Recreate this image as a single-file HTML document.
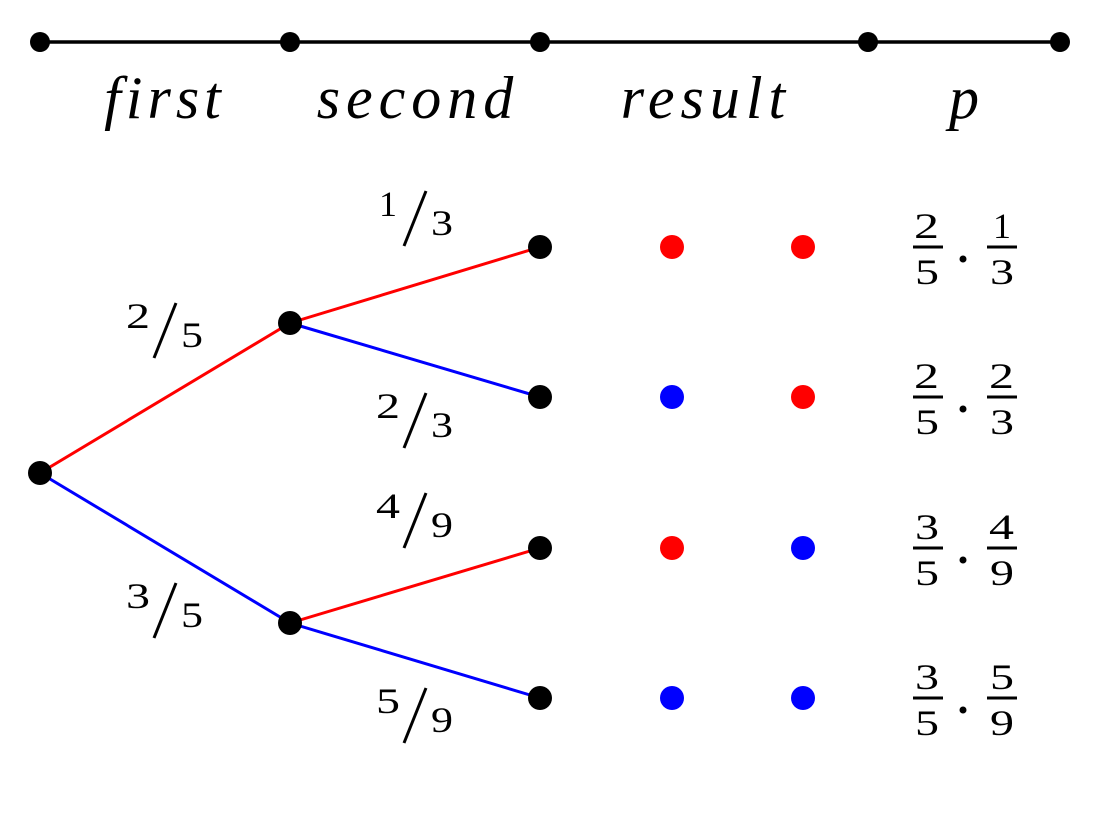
<!DOCTYPE html>
<html><head><meta charset="utf-8"><style>html,body{margin:0;padding:0;background:#fff}</style></head>
<body>
<svg width="1102" height="825" xmlns="http://www.w3.org/2000/svg" font-family="'Liberation Serif', serif">
<defs>
<g id="sl"><line x1="51" y1="3" x2="29" y2="58" stroke="#000" stroke-width="3"/></g>
</defs>
<line x1="40" y1="42" x2="1060" y2="42" stroke="#000" stroke-width="3.5"/>
<g fill="#000">
<circle cx="40" cy="42" r="10"/><circle cx="290" cy="42" r="10"/><circle cx="540" cy="42" r="10"/><circle cx="868" cy="42" r="10"/><circle cx="1060" cy="42" r="10"/>
</g>
<g font-style="italic" font-size="60" text-anchor="middle">
<text x="165" y="118" letter-spacing="5">first</text>
<text x="418" y="118" letter-spacing="6">second</text>
<text x="706" y="118" letter-spacing="6">result</text>
<text x="964" y="118">p</text>
</g>
<g stroke-width="3">
<line x1="40" y1="473" x2="290" y2="323" stroke="#f00"/>
<line x1="40" y1="473" x2="290" y2="623" stroke="#00f"/>
<line x1="290" y1="323" x2="540" y2="247" stroke="#f00"/>
<line x1="290" y1="323" x2="540" y2="397" stroke="#00f"/>
<line x1="290" y1="623" x2="540" y2="548" stroke="#f00"/>
<line x1="290" y1="623" x2="540" y2="698" stroke="#00f"/>
</g>
<g fill="#000">
<circle cx="40" cy="473" r="12"/><circle cx="290" cy="323" r="12"/><circle cx="290" cy="623" r="12"/>
<circle cx="540" cy="247" r="12"/><circle cx="540" cy="397" r="12"/><circle cx="540" cy="548" r="12"/><circle cx="540" cy="698" r="12"/>
</g>
<g>
<circle cx="672" cy="247" r="12" fill="#f00"/><circle cx="803" cy="247" r="12" fill="#f00"/>
<circle cx="672" cy="397" r="12" fill="#00f"/><circle cx="803" cy="397" r="12" fill="#f00"/>
<circle cx="672" cy="548" r="12" fill="#f00"/><circle cx="803" cy="548" r="12" fill="#00f"/>
<circle cx="672" cy="698" r="12" fill="#00f"/><circle cx="803" cy="698" r="12" fill="#00f"/>
</g>
<g font-size="36" text-anchor="middle">
<g transform="translate(375,188)"><text x="13" y="28">1</text><use href="#sl"/><text x="67" y="47" textLength="22" lengthAdjust="spacingAndGlyphs">3</text></g>
<g transform="translate(125,300)"><text x="13" y="28" textLength="24" lengthAdjust="spacingAndGlyphs">2</text><use href="#sl"/><text x="67" y="47" textLength="22" lengthAdjust="spacingAndGlyphs">5</text></g>
<g transform="translate(375,390)"><text x="13" y="28" textLength="24" lengthAdjust="spacingAndGlyphs">2</text><use href="#sl"/><text x="67" y="47" textLength="22" lengthAdjust="spacingAndGlyphs">3</text></g>
<g transform="translate(375,490)"><text x="13" y="28" textLength="24" lengthAdjust="spacingAndGlyphs">4</text><use href="#sl"/><text x="67" y="47" textLength="22" lengthAdjust="spacingAndGlyphs">9</text></g>
<g transform="translate(125,580)"><text x="13" y="28" textLength="24" lengthAdjust="spacingAndGlyphs">3</text><use href="#sl"/><text x="67" y="47" textLength="22" lengthAdjust="spacingAndGlyphs">5</text></g>
<g transform="translate(375,685)"><text x="13" y="28" textLength="24" lengthAdjust="spacingAndGlyphs">5</text><use href="#sl"/><text x="67" y="47" textLength="22" lengthAdjust="spacingAndGlyphs">9</text></g>
</g>
<g font-size="36">
<g transform="translate(0,247)"><text x="914" y="-9" textLength="25" lengthAdjust="spacingAndGlyphs">2</text><line x1="913" y1="0" x2="943" y2="0" stroke="#000" stroke-width="3"/><text x="915" y="37" textLength="24" lengthAdjust="spacingAndGlyphs">5</text><circle cx="963" cy="12" r="3.5"/><text x="993" y="-9">1</text><line x1="987" y1="0" x2="1017" y2="0" stroke="#000" stroke-width="3"/><text x="990" y="37" textLength="24" lengthAdjust="spacingAndGlyphs">3</text></g>
<g transform="translate(0,397)"><text x="914" y="-9" textLength="25" lengthAdjust="spacingAndGlyphs">2</text><line x1="913" y1="0" x2="943" y2="0" stroke="#000" stroke-width="3"/><text x="915" y="37" textLength="24" lengthAdjust="spacingAndGlyphs">5</text><circle cx="963" cy="12" r="3.5"/><text x="989" y="-9" textLength="25" lengthAdjust="spacingAndGlyphs">2</text><line x1="987" y1="0" x2="1017" y2="0" stroke="#000" stroke-width="3"/><text x="990" y="37" textLength="24" lengthAdjust="spacingAndGlyphs">3</text></g>
<g transform="translate(0,548)"><text x="915" y="-9" textLength="24" lengthAdjust="spacingAndGlyphs">3</text><line x1="913" y1="0" x2="943" y2="0" stroke="#000" stroke-width="3"/><text x="915" y="37" textLength="24" lengthAdjust="spacingAndGlyphs">5</text><circle cx="963" cy="12" r="3.5"/><text x="989" y="-9" textLength="25" lengthAdjust="spacingAndGlyphs">4</text><line x1="987" y1="0" x2="1017" y2="0" stroke="#000" stroke-width="3"/><text x="990" y="37" textLength="24" lengthAdjust="spacingAndGlyphs">9</text></g>
<g transform="translate(0,698)"><text x="915" y="-9" textLength="24" lengthAdjust="spacingAndGlyphs">3</text><line x1="913" y1="0" x2="943" y2="0" stroke="#000" stroke-width="3"/><text x="915" y="37" textLength="24" lengthAdjust="spacingAndGlyphs">5</text><circle cx="963" cy="12" r="3.5"/><text x="990" y="-9" textLength="24" lengthAdjust="spacingAndGlyphs">5</text><line x1="987" y1="0" x2="1017" y2="0" stroke="#000" stroke-width="3"/><text x="990" y="37" textLength="24" lengthAdjust="spacingAndGlyphs">9</text></g>
</g>
</svg>
</body></html>
